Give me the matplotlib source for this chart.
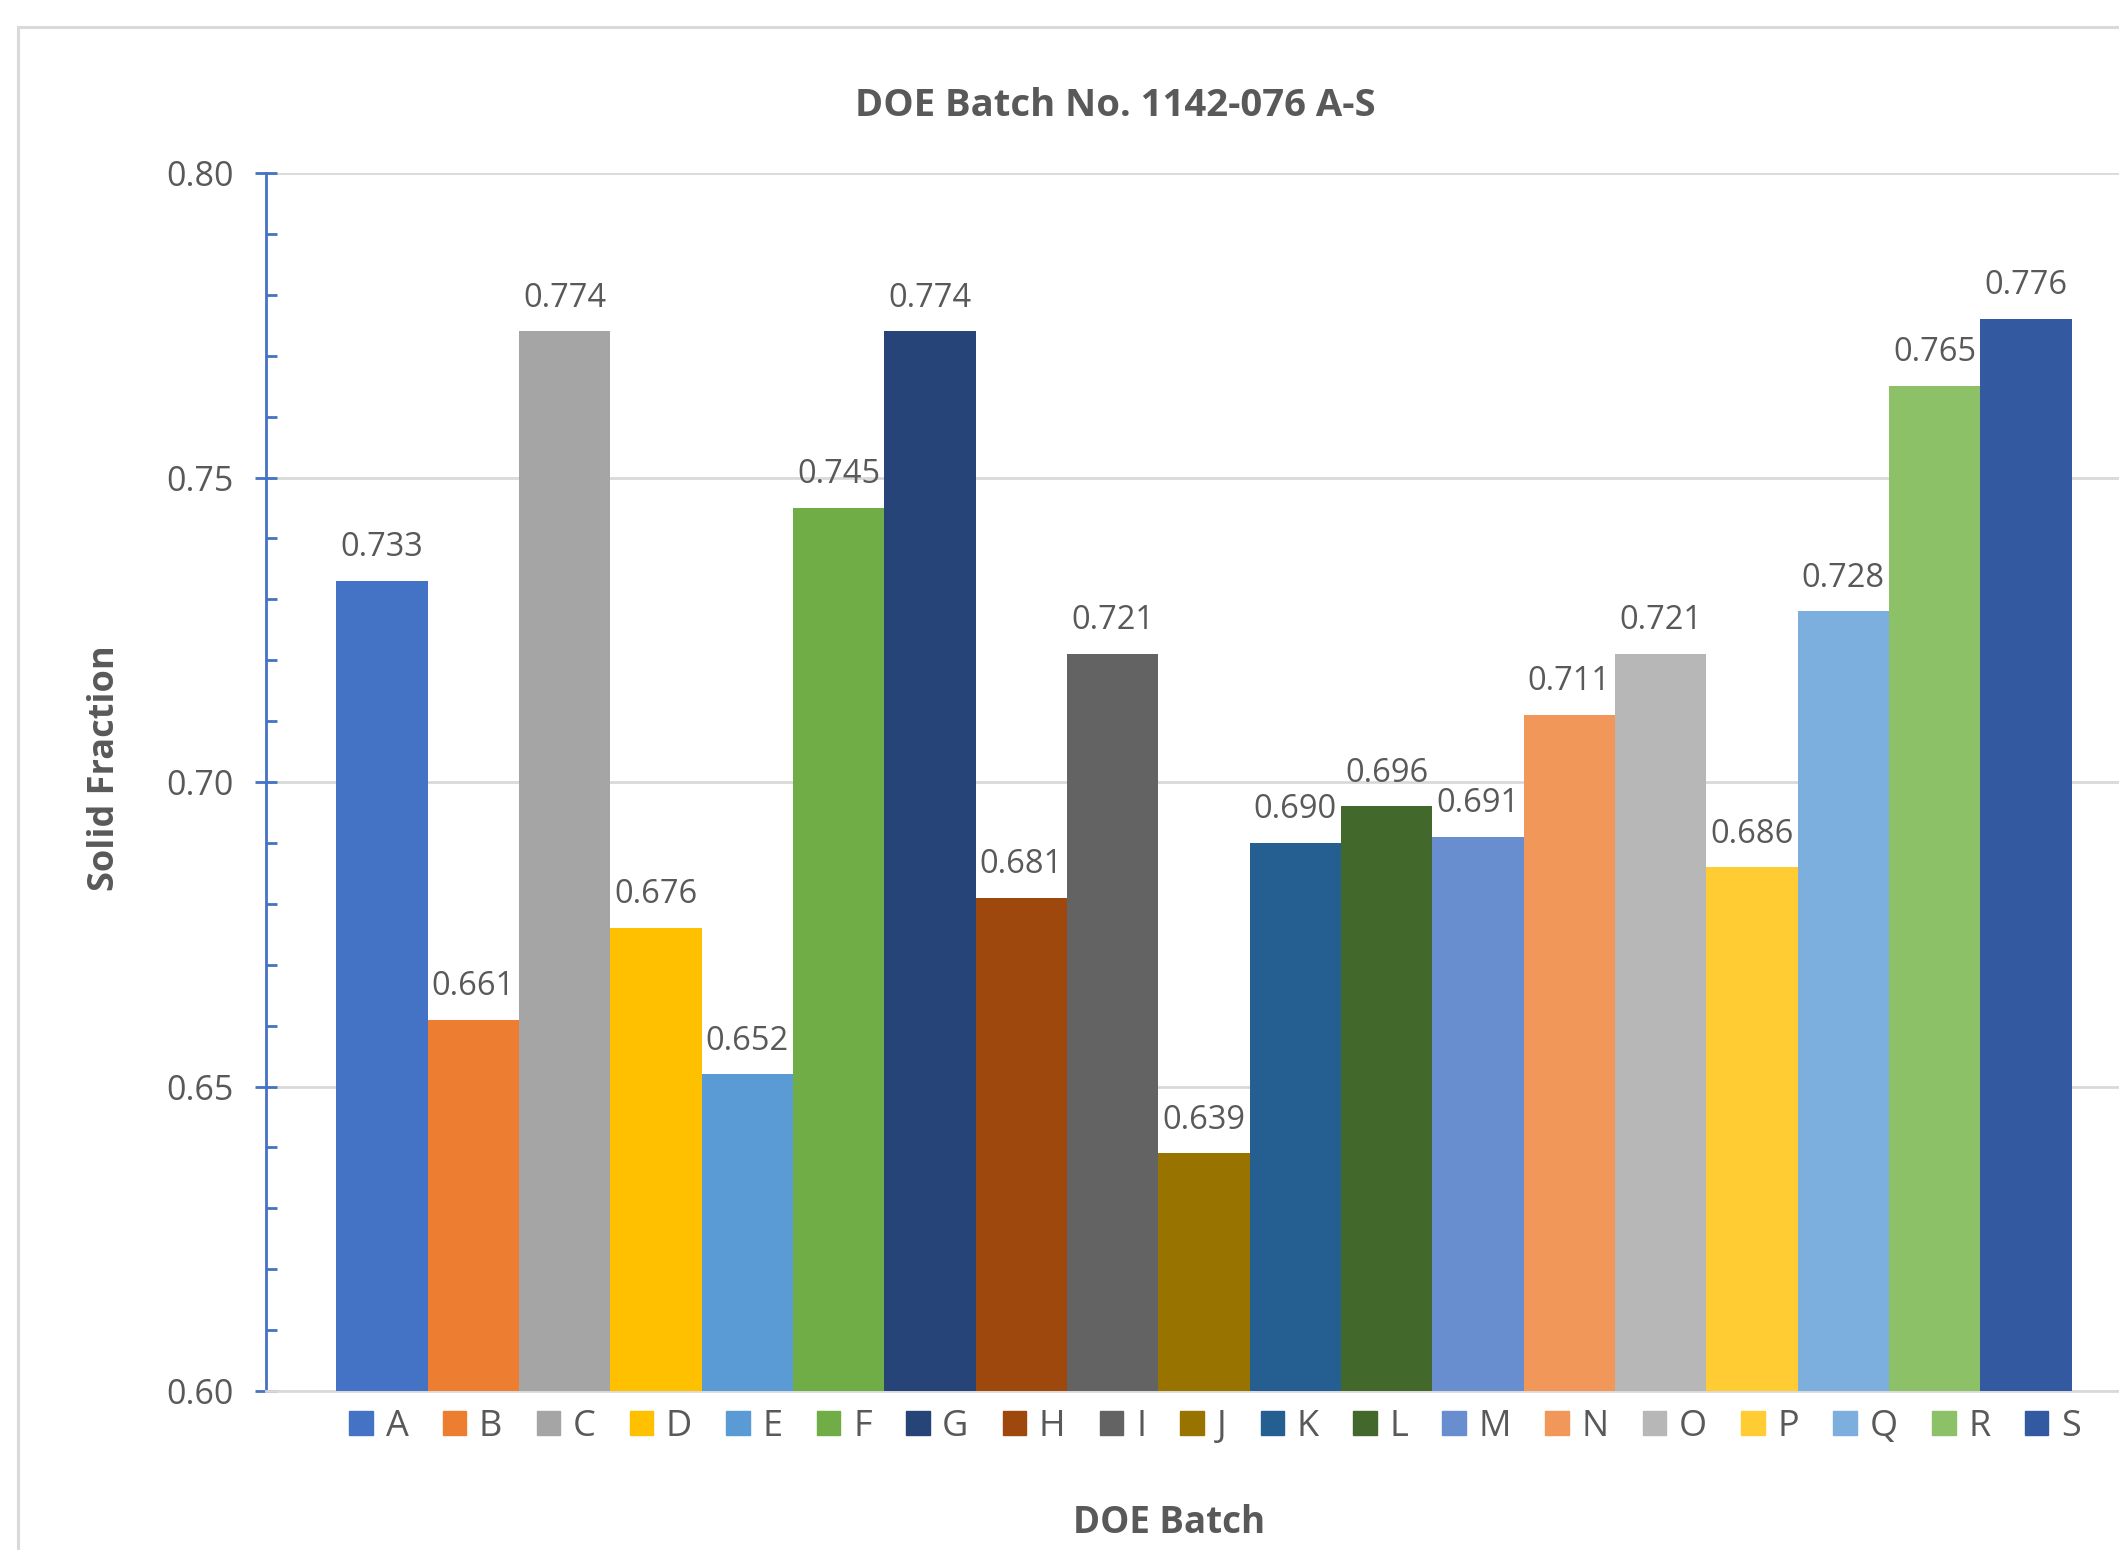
import matplotlib
matplotlib.use("Agg")
import matplotlib.pyplot as plt
from matplotlib.patches import Patch, Rectangle
from matplotlib.ticker import MultipleLocator
import numpy as np

batches = ["A", "B", "C", "D", "E", "F", "G", "H", "I", "J",
           "K", "L", "M", "N", "O", "P", "Q", "R", "S"]
solid_fraction = [0.733, 0.661, 0.774, 0.676, 0.652, 0.745, 0.774, 0.681, 0.721, 0.639,
                  0.690, 0.696, 0.691, 0.711, 0.721, 0.686, 0.728, 0.765, 0.776]
colors = ["#4472C4", "#ED7D31", "#A5A5A5", "#FFC000", "#5B9BD5", "#70AD47", "#264478",
          "#9E480E", "#636363", "#997300", "#255E91", "#43682B", "#698ED0", "#F1975A",
          "#B7B7B7", "#FFCD33", "#7CAFDD", "#8CC168", "#335AA1"]
yticks = [0.60, 0.65, 0.70, 0.75, 0.80]

plt.rcParams['font.family'] = ['Open Sans', 'DejaVu Sans']
TXT = "#595959"

W, H = 2119, 1550
fig = plt.figure(figsize=(W / 100, H / 100), dpi=100)

# chart border
fig.patches.append(Rectangle((18 / W, -0.1), 2.0, 1 - 27 / H + 0.1, transform=fig.transFigure,
                             fill=False, edgecolor="#D9D9D9", linewidth=2.2))

left, right, top, bottom = 266, 2142, 173, 1391
ax = fig.add_axes([left / W, 1 - bottom / H, (right - left) / W, (bottom - top) / H])

x = np.arange(len(batches))
bars = ax.bar(x, solid_fraction, width=1.0, color=colors, zorder=3)

ax.set_ylim(0.60, 0.80)
ax.set_xlim(-0.5 - 0.77, len(batches) - 0.5 + 0.77)
ax.set_yticks(yticks)
ax.set_yticklabels([f"{v:.2f}" for v in yticks])
ax.yaxis.set_minor_locator(MultipleLocator(0.01))
ax.set_xticks([])
ax.grid(axis="y", color="#D9D9D9", linewidth=2, zorder=0)
for s in ["top", "right"]:
    ax.spines[s].set_visible(False)
ax.spines["left"].set_color("#4472C4")
ax.spines["left"].set_linewidth(2)
ax.spines["bottom"].set_color("#D9D9D9")
ax.spines["bottom"].set_linewidth(2)
ax.tick_params(axis="y", which="major", direction="inout", length=16, width=2,
               color="#4472C4", labelsize=24.5, labelcolor=TXT, pad=15)
ax.tick_params(axis="y", which="minor", direction="in", length=8, width=2, color="#4472C4")

for xi, v in zip(x, solid_fraction):
    ax.annotate(f"{v:.3f}", (xi, v), xytext=(0, 12), textcoords="offset points",
                ha="center", va="bottom", fontsize=23.5, color=TXT)

fig.text(1115 / W, 1 - 106 / H, "DOE Batch No. 1142-076 A-S", ha="center", va="center",
         fontsize=27.5, fontweight="bold", color=TXT)
fig.text(105 / W, 1 - 768 / H, "Solid Fraction", rotation=90, ha="center", va="center",
         fontsize=26, fontweight="bold", color=TXT)
fig.text(1169 / W, 1 - 1523 / H, "DOE Batch", ha="center", va="center",
         fontsize=26.5, fontweight="bold", color=TXT)

handles = [Patch(facecolor=c, edgecolor=c) for c in colors]
leg = fig.legend(handles, batches, loc="center", bbox_to_anchor=(1215 / W, 1 - 1427 / H),
                 ncol=len(batches), frameon=False, fontsize=26, handlelength=0.65,
                 handleheight=0.65, handletextpad=0.35, columnspacing=0.95, borderaxespad=0)
for t in leg.get_texts():
    t.set_color(TXT)

fig.savefig("out.png", dpi=100)
